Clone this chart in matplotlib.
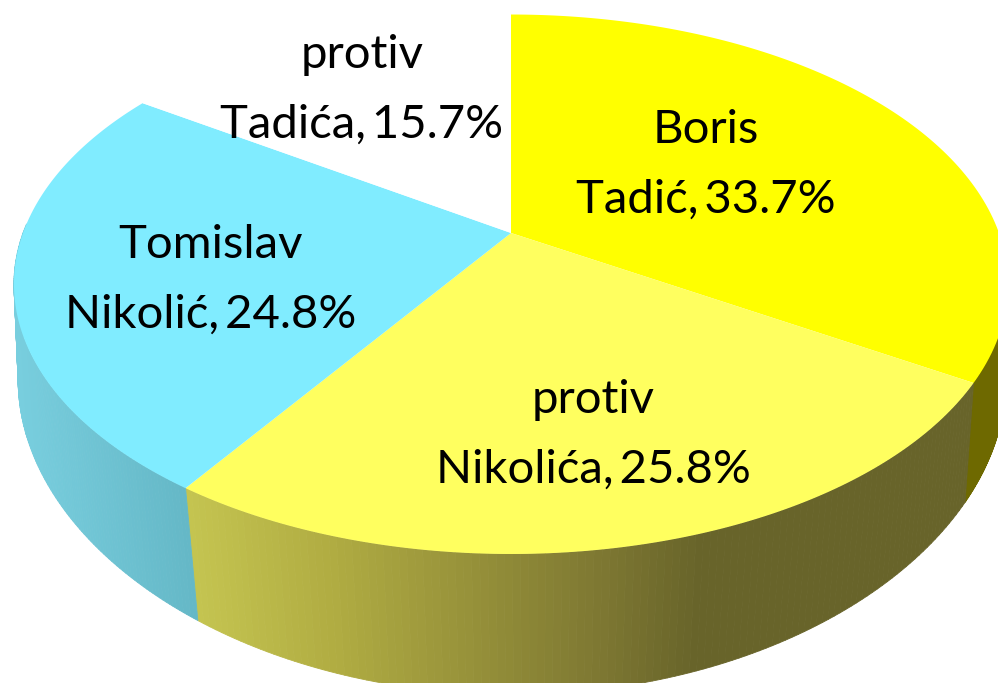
import numpy as np
import matplotlib.pyplot as plt
from matplotlib.collections import PolyCollection

# vote shares, clockwise from 12 o'clock
names = ['Boris\nTadić,\u2009', 'protiv\nNikolića,\u2009', 'Tomislav\nNikolić,\u2009', 'protiv\nTadića,\u2009']
values = [33.7, 25.8, 24.8, 15.7]

top_colors = ['#FFFF00', '#FFFF5F', '#80ECFF', '#FFFFFF']
# centre x / baseline y of the second line of each label
label_pos = [(706, 213), (593, 483), (211, 328), (362, 138)]
line_gap = 70
has_side = [True, True, True, False]

plt.rcParams['font.family'] = ['Lato', 'DejaVu Sans']

fig = plt.figure(figsize=(9.98, 6.83), dpi=100)
ax = fig.add_axes([0, 0, 1, 1])
ax.set_xlim(0, 998)
ax.set_ylim(683, 0)
ax.axis('off')


# perspective: circle point at angle t -> picture position
def project(t, cx, cy, a, b, kx, k=0.19):
    u, v = np.sin(t), np.cos(t)
    return cx + a * u / (1 + kx * v), cy - b * v / (1 + k * v)


def top_rim(t):
    return project(t, 511, 233, 488, 260, 0.19)


def bottom_rim(t):
    return project(t, 512, 334, 488, 292, 0.1534)


def side_color(i, x):
    if i == 0:
        return np.array([110, 105, 0]) / 255
    if i == 1:
        stops = [190, 330, 600, 700, 980]
        r = np.interp(x, stops, [196, 176, 126, 104, 104])
        g = np.interp(x, stops, [196, 172, 120, 100, 100])
        b = np.interp(x, stops, [80, 66, 50, 42, 42])
        return np.array([r, g, b]) / 255
    r = np.interp(x, [15, 190], [120, 100])
    g = np.interp(x, [15, 190], [206, 183])
    b = np.interp(x, [15, 190], [222, 198])
    return np.array([r, g, b]) / 255


edges = np.radians(np.concatenate([[0], np.cumsum(values)]) / sum(values) * 360)

# side walls first, the top faces cover whatever is behind them
# the back of the wall is skipped so it can't peek out round the rim
for i in range(len(values)):
    if not has_side[i]:
        continue
    ts = np.linspace(max(edges[i], np.radians(97)), min(edges[i + 1], np.radians(272)), 120)
    x1, y1 = top_rim(ts)
    x2, y2 = bottom_rim(ts)
    quads = []
    cols = []
    for j in range(len(ts) - 1):
        quads.append([(x1[j], y1[j]), (x1[j + 1], y1[j + 1]), (x2[j + 1], y2[j + 1]), (x2[j], y2[j])])
        cols.append(side_color(i, (x1[j] + x1[j + 1]) / 2))
    ax.add_collection(PolyCollection(quads, facecolors=cols, edgecolors=cols, linewidths=0.6, zorder=2))

# top faces
for i in range(len(values)):
    ts = np.linspace(edges[i], edges[i + 1], 120)
    x, y = top_rim(ts)
    ax.fill(np.r_[511, x], np.r_[233, y], color=top_colors[i], lw=0, zorder=3)

for name, val, pos in zip(names, values, label_pos):
    first, second = name.split('\n')
    ax.text(pos[0], pos[1] - line_gap, first, ha='center', va='baseline', fontsize=34, color='black', zorder=4)
    ax.text(pos[0], pos[1], f'{second}{val}%', ha='center', va='baseline', fontsize=34, color='black', zorder=4)

fig.savefig('out.png', dpi=100)
